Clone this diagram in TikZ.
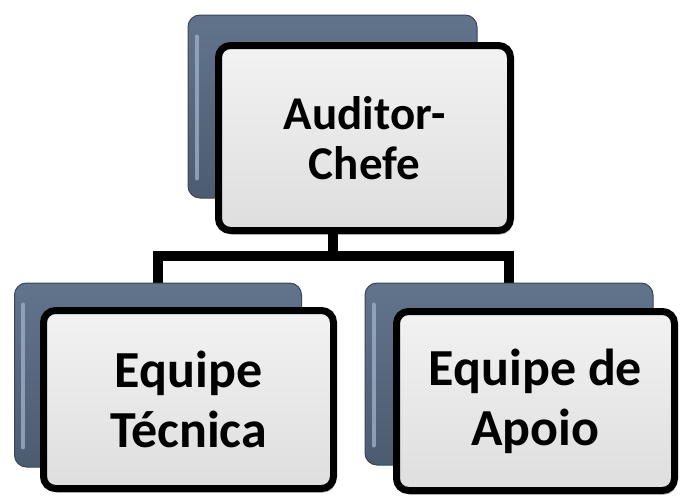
\documentclass[tikz,border=0pt]{standalone}
\usepackage{fontspec}
\setmainfont{Carlito}
\usetikzlibrary{shadows,calc}
\pgfdeclarelayer{background}
\pgfsetlayers{background,main}
\definecolor{backtop}{HTML}{62748C}
\definecolor{backbot}{HTML}{4C5C70}
\definecolor{backedge}{HTML}{3A4656}
\definecolor{backhi}{HTML}{9AAEC6}
\definecolor{fronttop}{HTML}{F2F2F2}
\definecolor{frontbot}{HTML}{DEDEDE}
\tikzset{
  backbox/.style={draw=backedge, line width=1pt, rounded corners=12pt,
    top color=backtop, bottom color=backbot, inner sep=0pt},
  frontbox/.style={draw=black, line width=7pt, rounded corners=12pt,
    top color=fronttop, bottom color=frontbot, inner sep=0pt, align=center,
    drop shadow={shadow xshift=2pt, shadow yshift=-4pt, opacity=0.35, fill=black}},
  conn/.style={draw=black, line width=10pt, line join=miter},
  hilite/.style={draw=backhi, line width=4pt, line cap=round, opacity=0.8},
  bigtext/.style={font=\fontsize{52}{60}\selectfont\bfseries},
  toptext/.style={font=\fontsize{47}{50}\selectfont\bfseries}
}
\begin{document}
\begin{tikzpicture}[x=1pt,y=-1pt]
\useasboundingbox (0,0) rectangle (681,498);
% back boxes
\node[backbox, minimum width=289pt, minimum height=183pt] (chefeback) at (332.5,106.5) {};
\node[backbox, minimum width=287pt, minimum height=184pt] (tecback) at (158,375) {};
\node[backbox, minimum width=288pt, minimum height=182pt] (apoioback) at (509,374) {};
% highlights on back boxes
\draw[hilite] ($(chefeback.north west)+(9,22)$) -- ($(chefeback.south west)+(9,-20)$);
\draw[hilite] ($(tecback.north west)+(9,22)$) -- ($(tecback.south west)+(9,-20)$);
\draw[hilite] ($(apoioback.north west)+(9,22)$) -- ($(apoioback.south west)+(9,-20)$);
% front boxes
\node[frontbox, toptext, minimum width=292pt, minimum height=185pt] (chefe) at (364.5,138) {Auditor-\\Chefe};
\node[frontbox, bigtext, minimum width=290pt, minimum height=178pt] (tec) at (188.5,399.5) {Equipe\\Técnica};
\node[frontbox, bigtext, minimum width=278pt, minimum height=179pt] (apoio) at (535.5,401) {Equipe de\\Apoio};
% connectors
\begin{pgfonlayer}{background}
\coordinate (drop) at (chefeback.south |- chefe.south);
\draw[conn] (drop) -- ++(0,22) coordinate (bar) -| (tecback.north);
\draw[conn] (bar) -| (apoioback.north);
\end{pgfonlayer}
\end{tikzpicture}
\end{document}
